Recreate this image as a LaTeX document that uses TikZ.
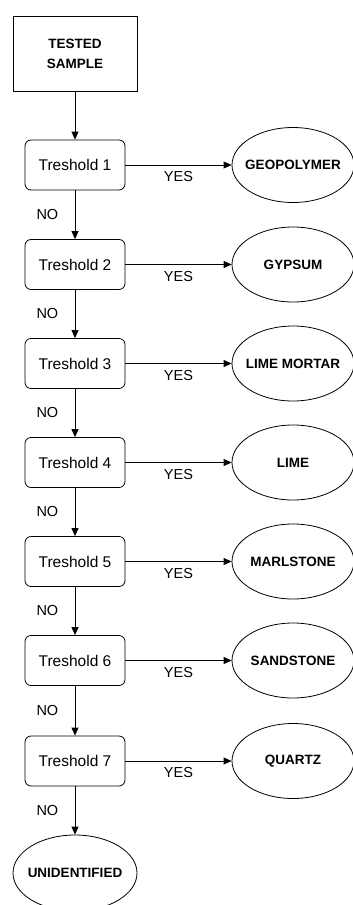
\documentclass[tikz,border=0pt]{standalone}
\usepackage{fontspec}
\setmainfont{Liberation Sans}
\usetikzlibrary{shapes.geometric,arrows.meta}
\begin{document}
\begin{tikzpicture}[x=1pt,y=-1pt,
  box/.style={draw,line width=0.8pt,rounded corners=6pt,minimum width=100pt,minimum height=50pt,inner sep=0pt,font=\fontsize{15.5}{18}\selectfont},
  startbox/.style={draw,line width=0.8pt,minimum width=124pt,minimum height=75pt,inner sep=0pt,align=center,font=\fontsize{13.5}{20}\selectfont\bfseries},
  result/.style={draw,ellipse,line width=0.8pt,minimum width=122pt,minimum height=75pt,inner sep=0pt,font=\fontsize{13.5}{16}\selectfont\bfseries},
  conn/.style={line width=0.8pt,-{Triangle[width=7pt,length=8pt]}},
  lbl/.style={font=\fontsize{14.5}{16}\selectfont}]
\useasboundingbox (0,0) rectangle (353,905);
\node[startbox] (s) at (75,53.5) {TESTED\\SAMPLE};
\foreach \i/\r/\y in {1/GEOPOLYMER/165,2/GYPSUM/264.5,3/LIME MORTAR/363.5,4/LIME/462.5,5/MARLSTONE/561.5,6/SANDSTONE/660.5,7/QUARTZ/761}{
  \node[box] (t\i) at (75,\y) {Treshold \i};
  \node[result] (r\i) at (293,\y) {\makebox[0pt]{\r}};
  \draw[conn] (t\i) -- (r\i) node[lbl,pos=0.5,below=3pt] {YES};
}
\node[result,minimum width=124pt,minimum height=76pt] (u) at (75,873) {\makebox[0pt]{UNIDENTIFIED}};
\draw[conn] (s) -- (t1);
\foreach \a/\b in {1/2,2/3,3/4,4/5,5/6,6/7}{
  \draw[conn] (t\a) -- (t\b) node[lbl,pos=0.5,left=13pt] {NO};
}
\draw[conn] (t7) -- (u) node[lbl,pos=0.5,left=13pt] {NO};
\end{tikzpicture}
\end{document}
